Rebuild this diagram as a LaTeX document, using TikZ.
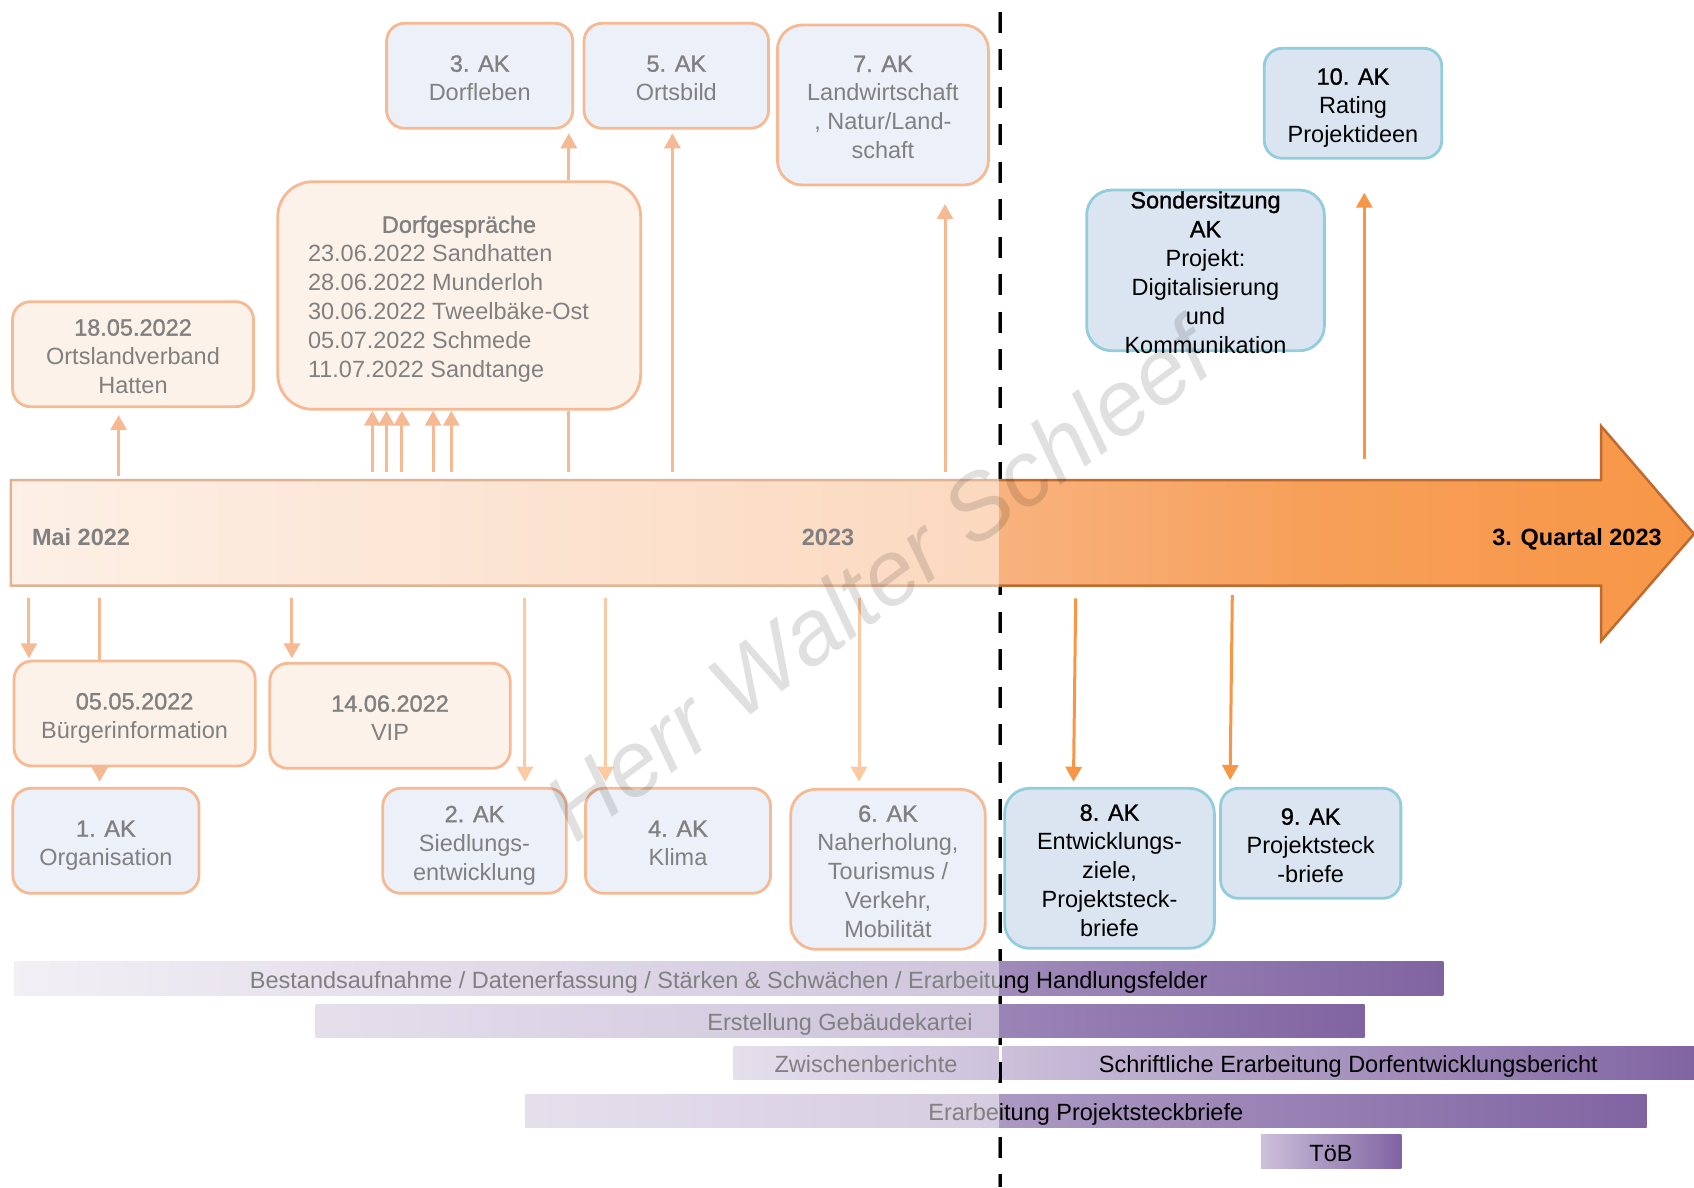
\documentclass[tikz,border=0pt]{standalone}
\usepackage{fontspec}
\setmainfont{Liberation Sans}
\newfontfamily\tfont[FakeBold=1.2]{Liberation Sans}
\usetikzlibrary{arrows.meta}
\newcommand{\ttl}[1]{\rule{0pt}{26pt}{\tfont #1}}
\newcommand{\lst}[1]{#1\rule[-5.2pt]{0pt}{5.2pt}}
\definecolor{orL}{HTML}{EB7328}
\definecolor{orA}{HTML}{F79646}
\definecolor{peachfill}{HTML}{FBE5D6}
\definecolor{akfill}{HTML}{DAE3F3}
\definecolor{akRfill}{HTML}{DBE5F1}
\definecolor{akRline}{HTML}{92CDDC}
\definecolor{tlA}{HTML}{FBE1CD}
\definecolor{tlB}{HTML}{F8B27E}
\definecolor{tlC}{HTML}{F7A05A}
\definecolor{tlD}{HTML}{F79646}
\definecolor{tlline}{HTML}{C06A2E}
\definecolor{lavA}{HTML}{E5E0EC}
\definecolor{lavB}{HTML}{CCC0DA}
\definecolor{purp}{HTML}{8064A2}
\definecolor{purpS}{HTML}{9A84B9}
\pgfdeclarehorizontalshading{tlshade}{100bp}{color(0bp)=(tlA); color(25bp)=(tlA); color(54.4bp)=(tlB); color(63.3bp)=(tlC); color(75bp)=(tlD); color(100bp)=(tlD)}
\begin{document}
\begin{tikzpicture}[x=1pt,y=-1pt,
  txt/.style={font=\fontsize{23.5}{29}\selectfont},
  box/.style={txt, rounded corners=18pt, line width=2.8pt, inner sep=0pt, align=center},
  peach/.style={box, fill=peachfill, draw=orL},
  akL/.style={box, fill=akfill, draw=orL},
  akR/.style={box, fill=akRfill, draw=akRline},
  arr/.style={line width=3pt, -{Triangle[length=15pt,width=16pt]}},
  arrL/.style={arr, color=orL},
  arrLl/.style={arr, color=orA},
  arrR/.style={arr, color=orA},
  lineL/.style={line width=3pt, color=orL},
  pbar/.style={txt, inner sep=0pt, left color=lavB, right color=purp,
    execute at begin node={\rule[-6pt]{0pt}{32pt}}},
  divider/.style={black, line width=3.5pt, dash pattern=on 21pt off 16.5pt},
  tllabel/.style={font=\fontsize{23.5}{29}\selectfont\bfseries, anchor=base, inner sep=0pt}
]
\useasboundingbox (0,0) rectangle (1694,1187);
\fill[white] (0,0) rectangle (1694,1187);

% divider (behind bars)
\coordinate (dtop) at (1000,11.7);
\coordinate (dbot) at (1000,1187);
\draw[divider] (dtop) -- (dbot);

% timeline arrow
\shadedraw[shading=tlshade, draw=tlline, line width=2.5pt, line join=miter]
  (10.8,480) -- (1601,480) -- (1601,426) -- (1694,534) -- (1601,641) -- (1601,585.7) -- (10.8,585.7) -- cycle;
\node[tllabel] (tl1) at (81,545.5) {Mai 2022};
\node[tllabel] (tl2) at (828,545.5) {2023};
\node[tllabel] (tl3) at (1577,545.5) {3. Quartal 2023};

% upper boxes
\node[akL, minimum width=186.2pt, minimum height=105pt] (ak3) at (479.7,75.8) {\ttl{3. AK}\\\lst{Dorfleben}};
\node[akL, minimum width=184.5pt, minimum height=105pt] (ak5) at (676.3,75.8) {\ttl{5. AK}\\\lst{Ortsbild}};
\node[akL, rounded corners=25pt, minimum width=211.1pt, minimum height=160pt] (ak7) at (882.9,105) {\ttl{7. AK}\\Landwirtschaft\\, Natur/Land-\\\lst{schaft}};
\node[peach, minimum width=241pt, minimum height=105pt] (n1805) at (133,354.2) {\ttl{18.05.2022}\\Ortslandverband\\\lst{Hatten}};
\node[peach, rounded corners=35pt, minimum width=363pt, minimum height=227.6pt] (dorf) at (459.2,295.5)
  {\raisebox{-4pt}[\height][\depth]{\begin{tabular}{@{}l@{}}\multicolumn{1}{@{}c@{}}{\hspace*{21pt}\tfont Dorfgespräche}\\
   23.06.2022 Sandhatten\\ 28.06.2022 Munderloh\\ 30.06.2022 Tweelbäke-Ost\\ 05.07.2022 Schmede\\ 11.07.2022 Sandtange\end{tabular}}\hspace*{21.4pt}};
\node[akR, minimum width=177.5pt, minimum height=110pt] (ak10) at (1353,103.3) {\ttl{10. AK}\\Rating\\\lst{Projektideen}};
\node[akR, rounded corners=25pt, inner ysep=-8pt, minimum width=237.7pt, minimum height=160.7pt] (sonder) at (1205.5,270.4)
  {\ttl{Sondersitzung}\\{\tfont AK}\\Projekt:\\Digitalisierung\\und\\\lst{Kommunikation}};

% lower boxes
\node[peach, minimum width=241.1pt, minimum height=105pt] (bur) at (134.6,713.5) {\ttl{05.05.2022}\\\lst{Bürgerinformation}};
\node[peach, minimum width=240.4pt, minimum height=105pt] (vip) at (390,715.8) {\ttl{14.06.2022}\\\lst{VIP}};
\node[akL, minimum width=186.2pt, minimum height=105pt] (ak1) at (105.9,840.8) {\ttl{1. AK}\\\lst{Organisation}};
\node[akL, minimum width=183.6pt, minimum height=105pt] (ak2) at (474.5,840.8) {\ttl{2. AK}\\Siedlungs-\\\lst{entwicklung}};
\node[akL, minimum width=185pt, minimum height=105pt] (ak4) at (678,840.8) {\ttl{4. AK}\\\lst{Klima}};
\node[akL, rounded corners=25pt, minimum width=194.5pt, minimum height=160pt] (ak6) at (888,869.3) {\ttl{6. AK}\\Naherholung,\\Tourismus /\\Verkehr,\\\lst{Mobilität}};
\node[akR, rounded corners=25pt, minimum width=209.7pt, minimum height=160pt] (ak8) at (1109.5,868.3) {\ttl{8. AK}\\Entwicklungs-\\ziele,\\Projektsteck-\\\lst{briefe}};
\node[akR, minimum width=180.3pt, minimum height=110pt] (ak9) at (1310.7,843.3) {\ttl{9. AK}\\Projektsteck\\\lst{-briefe}};

% connectors up
\coordinate (u1) at (118.6,476);
\draw[arrL, shorten >=7pt] (u1) -- (u1 |- n1805.south);
\foreach \i/\x in {a/372.3, b/386.5, c/401.9, d/433.1, e/451.3} {
  \coordinate (ud\i) at (\x,471.7);
  \draw[arrL] (ud\i) -- (ud\i |- dorf.south);
}
\coordinate (u3) at (568.8,471.7);
\draw[lineL] (u3) -- (u3 |- dorf.south);
\draw[arrL, shorten >=3.6pt] (u3 |- dorf.north) -- (u3 |- ak3.south);
\coordinate (u5) at (672.4,471.7);
\draw[arrL, shorten >=3.6pt] (u5) -- (u5 |- ak5.south);
\coordinate (u7) at (945,471.7);
\draw[arrL, shorten >=17.6pt] (u7) -- (u7 |- ak7.south);
\coordinate (u10) at (1364.3,459);
\draw[arrR, shorten >=33pt] (u10) -- (u10 |- ak10.south);

% connectors down
\coordinate (d1) at (28.9,597.7);
\draw[arrL, shorten >=1.3pt] (d1) -- (d1 |- bur.north);
\coordinate (d2) at (99.7,597.7);
\draw[lineL] (d2) -- (d2 |- bur.north);
\draw[arrL, shorten >=5.2pt] (d2 |- bur.south) -- (d2 |- ak1.north);
\coordinate (d3) at (291.9,597.7);
\draw[arrL, shorten >=3.6pt] (d3) -- (d3 |- vip.north);
\coordinate (d4) at (524.9,597.7);
\draw[arrLl, shorten >=5.2pt] (d4) -- (d4 |- ak2.north);
\coordinate (d5) at (605.5,597.7);
\draw[arrLl, shorten >=5.2pt] (d5) -- (d5 |- ak4.north);
\coordinate (d6) at (859,597.7);
\draw[arrLl, shorten >=6.2pt] (d6) -- (d6 |- ak6.north);
\coordinate (d8) at (1075.7,598.3);
\draw[arrR, shorten >=5.2pt] (d8) -- ([xshift=-36.1pt]ak8.north);
\coordinate (d9) at (1232.3,595);
\draw[arrR, shorten >=6.9pt] (d9) -- ([xshift=-80.7pt]ak9.north);

% work bars
\node[pbar, left color=lavA, minimum width=1429.4pt, minimum height=34pt] (b1) at (728.7,978.7)
  {Bestandsaufnahme / Datenerfassung / Stärken \& Schwächen / Erarbeitung Handlungsfelder};
\node[pbar, minimum width=1049pt, minimum height=33.7pt] (b2) at (840,1020.9) {Erstellung Gebäudekartei};
\node[pbar, right color=purpS, minimum width=264.7pt, minimum height=33.7pt] (b3a) at (866,1062.9) {Zwischenberichte};
\node[pbar, minimum width=691.4pt, minimum height=33.7pt] (b3b) at (1348.3,1062.9) {Schriftliche Erarbeitung Dorfentwicklungsbericht};
\node[pbar, minimum width=1121.5pt, minimum height=33.7pt] (b4) at (1085.8,1110.9) {Erarbeitung Projektsteckbriefe};
\node[pbar, minimum width=140.5pt, minimum height=34.7pt] (b5) at (1331,1151.4) {TöB};

% fade of the past
\fill[white, opacity=0.5] (0,0) rectangle (998.5,1187);

% watermark
\node[rotate=36.5, text=black, text opacity=0.12, font=\fontsize{92}{92}\selectfont\itshape, inner sep=0pt] (wm) at (878,580) {Herr Walter Schleef};
\end{tikzpicture}
\end{document}
